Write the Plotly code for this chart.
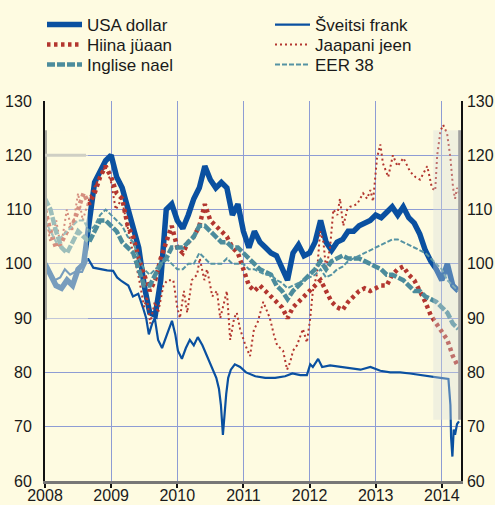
import plotly.graph_objects as go

# ---------------- data ----------------
months = [2008 + i / 12 for i in range(76)]

usd = [100, 98, 96, 95.5, 97, 96, 99, 100, 108, 115, 117, 119,
       120, 116, 114, 110, 107, 103, 96, 91, 90.5, 97, 110, 111,
       108, 106.5, 109, 112, 114, 118, 115.5, 114, 115, 114, 109, 111,
       106, 103, 106, 104, 103, 102, 101.5, 99, 97, 102, 103.5, 101.5,
       102, 104, 108, 104, 102.5, 104, 104.5, 106, 106, 107, 107.5, 108,
       109, 108.5, 109.5, 110.5, 109, 110.5, 108.5, 107.5, 105.5, 102.5, 100.5, 99,
       97, 100, 96, 95]

cny = [110, 106, 103, 104, 106, 107, 110, 113, 111, 113, 116, 118,
       116, 113, 112, 107, 105, 101, 98, 95, 97, 101, 104, 107,
       103, 102, 104, 105, 107, 111, 108, 107, 106, 105, 103, 102,
       99, 96, 95, 96, 95, 94, 93, 92, 90, 92, 93, 94,
       95, 96, 97, 95, 93, 92, 91.5, 93, 94, 95, 95.5, 95,
       95.5, 96, 96, 98, 99, 99.5, 98, 97, 95, 93, 90.5, 89,
       87.5, 86, 83, 81]

gbp = [112, 110, 106, 103, 102, 104, 106, 105, 104, 106, 108, 108,
       107, 106, 104, 103, 102, 99, 96, 96, 98, 100, 101, 103,
       103, 103, 104, 105, 107, 107, 106, 105, 104, 104, 103, 103,
       102, 101, 100, 99, 98.5, 98, 96, 95, 93.5, 95, 96, 97,
       98, 99, 100.5, 99, 100.5, 101, 101.5, 101, 101, 101, 100.5, 100,
       99.5, 99, 98, 98, 97.5, 97, 96, 95, 95, 94, 93.5, 93,
       92, 91, 89, 88]

eer = [108, 106, 104, 105, 106, 107, 108, 108, 106, 107, 109, 110,
       109, 108, 107, 105, 104, 101, 99, 98, 99, 100, 101, 100,
       99, 99, 100, 100, 102, 101, 100, 100, 100, 101, 100, 100,
       100, 99, 99, 98.5, 98, 98, 97, 96.5, 95.5, 96, 96.5, 97,
       97.5, 98, 99, 97.5, 98, 99, 99.5, 100.5, 101, 101.5, 102, 102.5,
       103, 103.5, 104, 104.5, 104.5, 104, 103.5, 103, 102.5, 102, 101, 100,
       99, 97, 96, 95]

chf_x = [2008.00, 2008.08, 2008.15, 2008.23, 2008.30, 2008.38, 2008.45, 2008.56,
         2008.65, 2008.73, 2008.83, 2008.94, 2009.03, 2009.09, 2009.16, 2009.26,
         2009.33, 2009.41, 2009.48, 2009.53, 2009.57, 2009.62, 2009.66, 2009.71,
         2009.77, 2009.82, 2009.86, 2009.92, 2009.97, 2010.01, 2010.07, 2010.13,
         2010.19, 2010.25, 2010.31, 2010.38, 2010.45, 2010.53, 2010.59, 2010.63,
         2010.66, 2010.69, 2010.72, 2010.74, 2010.77, 2010.81, 2010.87, 2010.95,
         2011.04, 2011.18, 2011.33, 2011.48, 2011.63, 2011.74, 2011.86, 2011.96,
         2012.01, 2012.05, 2012.13, 2012.19, 2012.31, 2012.46, 2012.61, 2012.77,
         2012.92, 2013.07, 2013.22, 2013.37, 2013.52, 2013.67, 2013.82, 2013.98,
         2014.10, 2014.13, 2014.14, 2014.16, 2014.18, 2014.20, 2014.23, 2014.26]
chf = [100, 98.5, 97, 97.5, 99, 98, 98.5, 98.5,
       101, 99.3, 99, 98.8, 98.7, 97.5, 96.8, 96,
       94, 94.5, 92, 90, 87, 89, 90, 86,
       84.5, 86, 87.5, 89.5, 87, 84, 82.5, 84.5,
       86, 85, 86.5, 85, 83, 80.5, 79, 77,
       74, 68.5, 74, 76, 79, 80.5, 81.5, 81,
       80, 79.3, 79, 79, 79.3, 79.8, 79.5, 79.5,
       81.5, 81, 82.5, 81, 81.3, 81, 80.8, 80.5,
       81, 80.3, 80, 80, 79.8, 79.5, 79.2, 79,
       78.8, 74, 68, 64.5, 69.5, 68.5, 70.5, 71]

jpy_x = [2008.00, 2008.08, 2008.17, 2008.24, 2008.33, 2008.41, 2008.50, 2008.57,
         2008.67, 2008.74, 2008.83, 2008.91, 2009.00, 2009.07, 2009.16, 2009.24,
         2009.33, 2009.41, 2009.45, 2009.50, 2009.54, 2009.59, 2009.66, 2009.71,
         2009.79, 2009.85, 2009.94, 2010.00, 2010.04, 2010.10, 2010.15, 2010.22,
         2010.30, 2010.34, 2010.41, 2010.45, 2010.53, 2010.60, 2010.65, 2010.69,
         2010.75, 2010.80, 2010.86, 2010.90, 2010.95, 2011.03, 2011.10, 2011.16,
         2011.21, 2011.30, 2011.36, 2011.40, 2011.46, 2011.51, 2011.60, 2011.66,
         2011.71, 2011.75, 2011.81, 2011.86, 2011.90, 2011.96, 2012.01, 2012.05,
         2012.11, 2012.16, 2012.21, 2012.25, 2012.31, 2012.36, 2012.42, 2012.46,
         2012.51, 2012.57, 2012.61, 2012.72, 2012.81, 2012.87, 2012.92, 2012.96,
         2013.02, 2013.07, 2013.11, 2013.19, 2013.26, 2013.33, 2013.42, 2013.52,
         2013.60, 2013.67, 2013.78, 2013.85, 2013.90, 2013.93, 2013.98, 2014.02,
         2014.08, 2014.13, 2014.17, 2014.20, 2014.23, 2014.26]
jpy = [110, 104, 108, 103, 110, 106, 113, 108,
       112, 114, 116, 118, 115, 110, 112, 107,
       102, 98, 95, 92, 94, 89, 93, 91,
       96, 97, 97, 92, 90, 95, 91, 97,
       98, 101, 97, 99, 94, 95, 90, 92,
       95, 86, 90, 91, 88, 85, 83, 88,
       89, 93, 91, 90, 87, 85, 84, 80.5,
       82, 84, 85, 86.5, 88, 85.5, 90, 95,
       98, 106, 104, 99, 103, 110, 109, 112,
       107, 110, 110.5, 111, 113, 112, 113.6, 111.5,
       119.5, 122, 118.5, 116, 120, 118, 119.5, 117,
       116, 115.5, 118, 114, 113.5, 120, 124.5, 125.6,
       124, 119.5, 114, 112, 114, 113]

year_ticks = [2008, 2009, 2010, 2011, 2012, 2013, 2014]
value_ticks = [60, 70, 80, 90, 100, 110, 120, 130]

names = ["USA dollar", "Hiina jüaan", "Inglise nael",
         "Šveitsi frank", "Jaapani jeen", "EER 38"]

# ---------------- styling ----------------
BLUE = "#0A50A0"
RED = "#B3362F"
TEAL = "#4C8C9C"
BG = "#FEFBE1"
GRID = "#8E9CD4"
FONT = "Liberation Sans, Arial, sans-serif"

fig = go.Figure()
fig.add_trace(go.Scatter(x=months, y=usd, name=names[0], mode="lines",
                         line=dict(color=BLUE, width=5.5), legend="legend"))
fig.add_trace(go.Scatter(x=chf_x, y=chf, name=names[3], mode="lines",
                         line=dict(color=BLUE, width=2.2), legend="legend4"))
fig.add_trace(go.Scatter(x=months, y=cny, name=names[1], mode="lines",
                         line=dict(color=RED, width=4.5, dash="3.5px,3.5px"), legend="legend2"))
fig.add_trace(go.Scatter(x=jpy_x, y=jpy, name=names[4], mode="lines",
                         line=dict(color=RED, width=2, dash="2px,3px"), legend="legend5"))
fig.add_trace(go.Scatter(x=months, y=gbp, name=names[2], mode="lines",
                         line=dict(color=TEAL, width=4.5, dash="8px,2px"), legend="legend3"))
fig.add_trace(go.Scatter(x=months, y=eer, name=names[5], mode="lines",
                         line=dict(color="#5593A3", width=2, dash="5px,2px"), legend="legend6"))
# right axis carrier
fig.add_trace(go.Scatter(x=[2008], y=[None], yaxis="y2", showlegend=False))


def leg(xpx, ypx):
    return dict(orientation="v", bgcolor="rgba(0,0,0,0)", borderwidth=0,
                font=dict(family=FONT, size=17, color="#1a1a1a"),
                xref="container", yref="container", xanchor="left", yanchor="top",
                itemwidth=35, x=xpx / 495, y=1 - ypx / 505)


fig.update_layout(
    width=495, height=505,
    margin=dict(l=45, r=34, t=101, b=24, autoexpand=False),
    paper_bgcolor=BG, plot_bgcolor=BG,
    font=dict(family=FONT, size=16, color="#1a1a1a"),
    legend=leg(42, 7), legend2=leg(42, 27), legend3=leg(42, 47),
    legend4=leg(270, 7), legend5=leg(270, 27), legend6=leg(270, 47),
    xaxis=dict(range=[2008, 2014.29], tickvals=year_ticks,
               ticktext=[str(y) for y in year_ticks],
               showgrid=True, gridcolor=GRID, gridwidth=1,
               showline=True, linecolor="#777777", linewidth=3,
               ticks="outside", ticklen=4, tickwidth=2, tickcolor="#111111",
               ticklabelstandoff=-6,
               zeroline=False, tickfont=dict(size=16)),
    yaxis=dict(range=[60, 130], tickvals=value_ticks,
               showgrid=True, gridcolor=GRID, gridwidth=1,
               showline=True, linecolor="#111111", linewidth=2,
               ticks="", ticklabelstandoff=8, zeroline=False,
               tickfont=dict(size=16)),
    yaxis2=dict(range=[60, 130], tickvals=value_ticks, overlaying="y", side="right",
                showgrid=False, showline=True, linecolor="#111111", linewidth=1.5,
                ticks="", ticklabelstandoff=1, zeroline=False,
                tickfont=dict(size=16)),
    shapes=[
        dict(type="rect", xref="x", yref="y", x0=2008, x1=2008.65, y0=89.7, y1=124.6,
             fillcolor="rgba(254,251,225,0.45)", line=dict(width=0), layer="above"),
        dict(type="line", xref="x", yref="y", x0=2008.0, x1=2008.0, y0=89.7, y1=124.6,
             line=dict(color="#A9A9A0", width=4), layer="above"),
        dict(type="line", xref="x", yref="y", x0=2008.0, x1=2008.62, y0=120, y1=120,
             line=dict(color="#CFCFC4", width=3), layer="above"),
        dict(type="rect", xref="x", yref="y", x0=2013.87, x1=2014.29, y0=71.3, y1=124.6,
             fillcolor="rgba(215,222,222,0.35)", line=dict(width=0), layer="above"),
        dict(type="line", xref="x", yref="y", x0=2014.27, x1=2014.27, y0=71.3, y1=124.6,
             line=dict(color="#A0A0A0", width=3), layer="above"),
    ],
)

fig.write_html("out.html", post_script="document.body.style.margin='0';",
               config={"displayModeBar": False})
